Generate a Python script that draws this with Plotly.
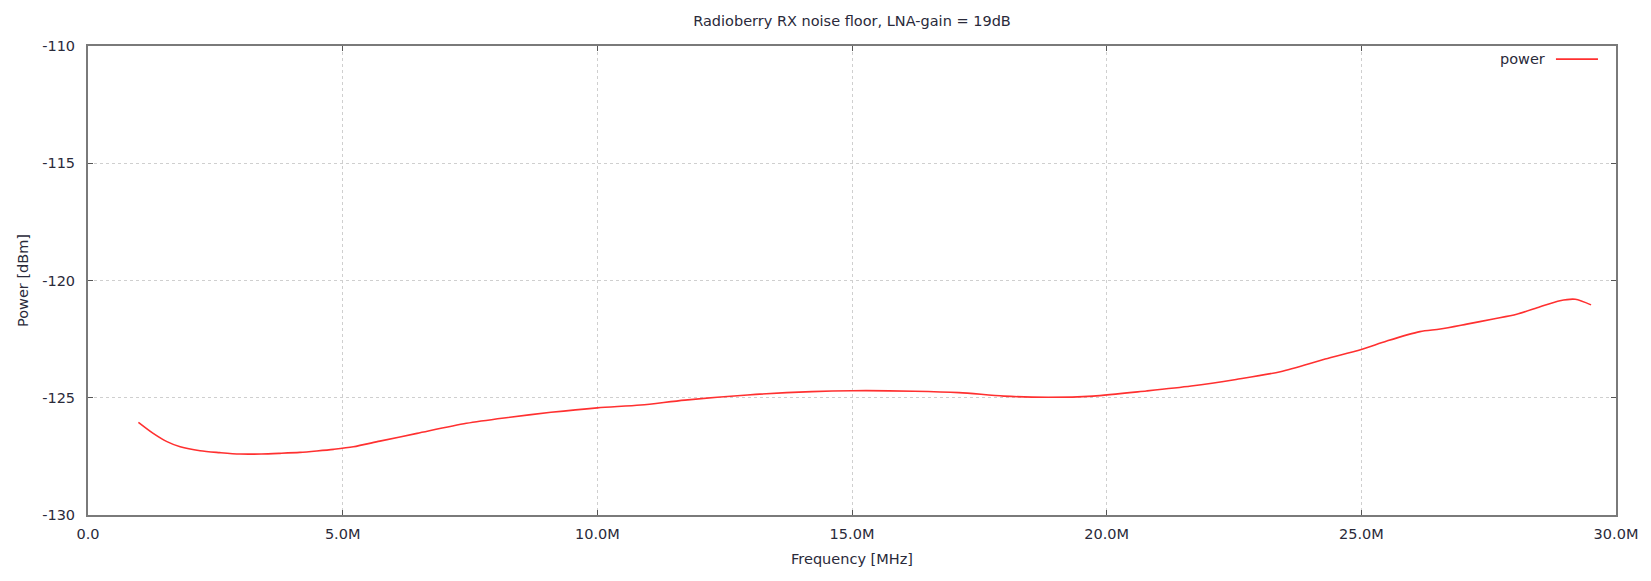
import plotly.graph_objects as go

# Data
freq_mhz = [0.99, 1.28, 1.55, 1.81, 2.20, 2.59, 2.98, 3.40, 3.77, 4.16, 4.49, 4.82, 5.21,
            5.73, 6.46, 7.43, 8.21, 9.09, 10.0, 10.85, 11.72, 12.95, 14.21, 15.0, 16.22,
            17.1, 17.98, 18.85, 19.73, 20.78, 21.66, 22.54, 23.41, 24.29, 25.0, 25.5,
            26.15, 26.55, 27.07, 27.59, 28.05, 28.51, 28.9, 29.2, 29.51]
power_dbm = [-126.05, -126.52, -126.87, -127.09, -127.26, -127.34, -127.40, -127.40,
             -127.37, -127.33, -127.27, -127.20, -127.09, -126.85, -126.52, -126.09,
             -125.85, -125.62, -125.43, -125.31, -125.10, -124.88, -124.74, -124.70,
             -124.72, -124.78, -124.93, -124.98, -124.93, -124.71, -124.50, -124.22,
             -123.89, -123.35, -122.94, -122.58, -122.18, -122.07, -121.86, -121.64,
             -121.44, -121.12, -120.86, -120.80, -121.04]
x_tickvals = [0, 5, 10, 15, 20, 25, 30]
x_ticktext = ["0.0", "5.0M", "10.0M", "15.0M", "20.0M", "25.0M", "30.0M"]
y_tickvals = [-130, -125, -120, -115, -110]
y_ticktext = ["-130", "-125", "-120", "-115", "-110"]

title_text = "Radioberry RX noise floor, LNA-gain = 19dB"
series_name = "power"

FONT = "DejaVu Sans"
TXT = "#2a2a3a"
RED = "#ff3030"
FS = 14.5

fig = go.Figure()
fig.add_trace(go.Scatter(x=freq_mhz, y=power_dbm, mode="lines", name=series_name,
                         line=dict(color=RED, width=1.6, shape="spline", smoothing=0.8),
                         showlegend=False))

axis_common = dict(
    showline=True, linecolor="#7a7a7a", linewidth=2, mirror="ticks",
    ticks="inside", ticklen=5, tickwidth=1, tickcolor="#555555",
    showgrid=True, gridcolor="#cfcfcf", griddash="dot", gridwidth=1,
    zeroline=False, tickfont=dict(family=FONT, size=FS, color=TXT),
)

fig.update_xaxes(range=[0, 30], tickvals=x_tickvals, ticktext=x_ticktext,
                 ticklabelstandoff=5,
                 title=dict(text="Frequency [MHz]", font=dict(family=FONT, size=FS, color=TXT),
                            standoff=12),
                 **axis_common)
fig.update_yaxes(range=[-130, -110], tickvals=y_tickvals, ticktext=y_ticktext,
                 ticklabelstandoff=8,
                 title=dict(text="Power [dBm]", font=dict(family=FONT, size=FS, color=TXT),
                            standoff=10),
                 **axis_common)

# gnuplot-style legend: label on the left, sample line on the right
fig.add_annotation(xref="paper", yref="paper", x=0.9549, y=0.972, xanchor="right",
                   yanchor="middle", text=series_name, showarrow=False,
                   font=dict(family=FONT, size=FS, color=TXT))
fig.add_shape(type="line", xref="paper", yref="paper", x0=0.9607, x1=0.9882,
              y0=0.972, y1=0.972, line=dict(color=RED, width=1.6))

fig.update_layout(
    width=1651, height=581,
    margin=dict(l=88, r=35, t=46, b=66, autoexpand=False),
    paper_bgcolor="white", plot_bgcolor="white",
    title=dict(text=title_text, x=0.5, xref="paper", xanchor="center", y=1 - 21 / 581,
               yanchor="middle", font=dict(family=FONT, size=FS, color=TXT)),
)

fig.write_html("out.html")
